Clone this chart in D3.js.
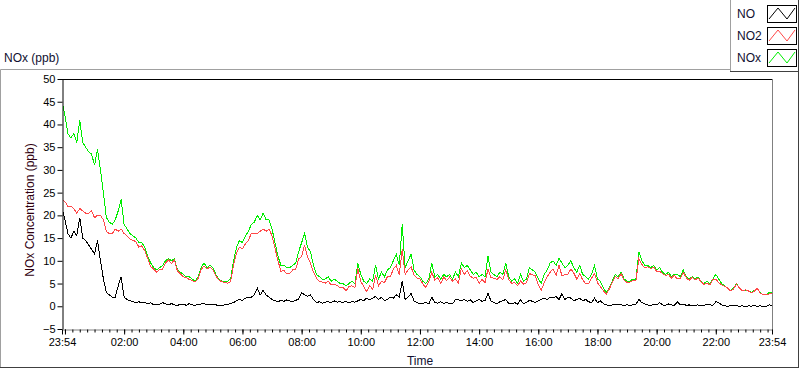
<!DOCTYPE html>
<html><head><meta charset="utf-8">
<script src="https://cdn.jsdelivr.net/npm/d3@7"></script>
<style>
body{margin:0;background:#fff;}
text{font-family:"Liberation Sans",Arial,sans-serif;}
</style>
</head><body>
<svg id="chart" width="800" height="369"></svg>
<script>
// ---- data (6-minute samples from 23:54 to 23:54 next day) ----
const stepMinutes = 6;
const seriesNames = ["NO", "NO2", "NOx"];
const yTickValues = [-5,0,5,10,15,20,25,30,35,40,45,50];
const xMajorLabels = ["23:54","02:00","04:00","06:00","08:00","10:00","12:00","14:00","16:00","18:00","20:00","22:00","23:54"];

const NOx = [
45,42,38,37,38,36,41,36,35,34,
33.5,31,34.5,30,25,19.5,18.5,18,19,21,
23.5,18,17,16,15.5,15,14,14,13,11,
9.5,8.5,8,8.5,9,10,10.5,10,10.5,8,
7.5,7,6.5,6.5,6,5.5,6.5,8.5,9.5,8.5,
9,8.5,7,6,5.5,5.5,5.5,6,10,13,
14.5,14,15.5,16.5,18,18.5,20,19,20.5,19,
19,17,14,11,9,9,8.5,8.5,9,9.5,
12,14,16,13,12,9,7,6.5,6,6,
6.5,5.5,6,5.5,5,5,4.5,5,5.5,5,
9.5,7,5.5,5,6,5.5,9,6,7.5,6.5,
8,8.5,10,11.5,9,18,8.5,10,11.5,8,
7,6.5,5.5,5,6,9.5,6.5,7,6,7,
6.5,7,6,7.5,6.5,9.5,8.5,9,8,7,
7.5,6.5,7,6.5,11,7.5,7,6.5,7.5,7,
9.5,6.5,5.5,6,5,7,5.5,6,8.5,8,
7.5,6,5,7,8,9.5,10,9,10.5,9.5,
8.5,9,10,8.5,7.5,9,7,6.5,6,7,
9,6,5.5,4,3,4,5.5,7,6.5,7.5,
6,5.5,5.5,6,6,12,10,9,9,8.5,
9,8,8.5,7.5,7,7.5,6.5,7,7,6.5,
8,6.5,6,6.5,6,6.5,5.5,5,5.5,5,
6,7,6,5,4.5,4,3.5,4,5,4,
3.5,3.5,3.5,3,3.5,4,3,2.5,2.5,3,
3
];
const NO2 = [
23.5,23,22,22,21.5,20.5,21.5,21,20.5,20.5,
21,19.5,20,20,19,16.5,16,16,17,16.5,
17,16,15.5,14.8,14.5,14.2,13,13.3,12.2,10.5,
8.7,8.2,7.5,8.1,8.2,9.5,10.2,9.4,10.2,7.8,
7.1,6.5,6.3,5.9,5.7,5.3,6.1,8,8.9,8.2,
8.6,8,6.7,5.8,5.4,5.2,5.1,5.4,9.2,11.8,
13,12.7,13.7,14.5,16,16,16,16.5,17,16.5,
17,15.5,12.8,10,7.7,7.9,7.1,7.3,8,8.2,
10.4,11,13.5,10.8,9.5,7.5,6.2,5.5,5.3,5.1,
5.5,4.7,4.8,4.6,4,4.2,3.4,4.3,4.5,4.1,
8.3,5.5,4.3,3.2,4.6,3.7,6.8,4.5,5.5,5.2,
6.5,6.5,8.2,9,7,12.5,7,8,8.7,6.8,
6.2,6,4.9,4.1,5.5,7.5,5.7,6.3,5,6.4,
5.7,6.4,5.5,6,5.1,8.3,7,7.9,6.6,6.2,
6.3,5,5.9,5.2,8.2,6.3,6.2,5.9,6.5,5.8,
8,5.9,5,5.2,4.5,5.6,4.9,5.2,7.2,6.9,
6.7,4.8,3.5,5.2,6.5,7.5,8.2,6.8,9,6.7,
7,7,8.2,7.3,6,7.2,5.8,5,5,6.2,
7.2,5.2,4.3,3.4,2.7,3.8,5.2,6.5,6.1,7.2,
5.8,5.2,5.3,5.7,5.6,10.5,9.2,8.5,8.7,8.3,
8.6,7.7,7.7,7.2,6.8,7,6.2,6.8,6,6.2,
7.5,6.3,5.7,6.4,5.8,6.2,5.4,4.8,5.1,4.7,
5.8,6,5.2,4.7,4.4,4,3.4,3.8,4.9,4,
3.4,3.6,3.4,3,3.3,4,2.9,2.5,2.6,2.7,
2.8
];
const NO = [
21.5,19,16,15,16.5,15.5,19.5,15,14.5,13.5,
12.5,11.5,14.5,10,6,3,2.5,2,2,4.5,
6.5,2,1.5,1.2,1,0.8,1,0.7,0.8,0.5,
0.8,0.3,0.5,0.4,0.8,0.5,0.3,0.6,0.3,0.2,
0.4,0.5,0.2,0.6,0.3,0.2,0.4,0.5,0.6,0.3,
0.4,0.5,0.3,0.2,0.1,0.3,0.4,0.6,0.8,1.2,
1.5,1.3,1.8,2,2,2.5,4,2.5,3.5,2.5,
2,1.5,1.2,1,1.3,1.1,1.4,1.2,1,1.3,
1.6,3,2.5,2.2,2.5,1.5,0.8,1,0.7,0.9,
1,0.8,1.2,0.9,1,0.8,1.1,0.7,1,0.9,
1.2,1.5,1.2,1.8,1.4,1.8,2.2,1.5,2,1.3,
1.5,2,1.8,2.5,2,5.5,1.5,2,2.8,1.2,
0.8,0.5,0.6,0.9,0.5,2,0.8,0.7,1,0.6,
0.8,0.6,0.5,1.5,1.4,1.2,1.5,1.1,1.4,0.8,
1.2,1.5,1.1,1.3,2.8,1.2,0.8,0.6,1,1.2,
1.5,0.6,0.5,0.8,0.5,1.4,0.6,0.8,1.3,1.1,
0.8,1.2,1.5,1.8,1.5,2,1.8,2.2,1.5,2.8,
1.5,2,1.8,1.2,1.5,1.8,1.2,1.5,1,0.8,
1.8,0.8,1.2,0.6,0.3,0.2,0.3,0.5,0.4,0.3,
0.2,0.3,0.2,0.3,0.4,1.5,0.8,0.5,0.3,0.2,
0.4,0.3,0.8,0.3,0.2,0.5,0.3,0.2,1,0.3,
0.5,0.2,0.3,0.1,0.2,0.3,0.1,0.2,0.4,0.3,
0.2,1,0.8,0.3,0.1,0,0.1,0.2,0.1,0,
0.1,-0.1,0.1,0,0.2,0,0.1,0,-0.1,0.3,
0.2
];
const seriesColors = {NO:"#000000", NO2:"#ff4848", NOx:"#00ee00"};

// ---- layout ----
const svg = d3.select("#chart");
const L = 62, R = 772, T = 79, B = 329;
const t0 = new Date(2000,0,1,23,54), t1 = new Date(2000,0,2,23,54);
const x = d3.scaleTime().domain([t0,t1]).range([L,R]);
const y = d3.scaleLinear().domain([-5,50]).range([B,T]);
const times = NOx.map((_,i)=> d3.timeMinute.offset(t0, i*stepMinutes));

// outer frame
svg.append("line").attr("x1",0.5).attr("y1",69.5).attr("x2",730).attr("y2",69.5).attr("stroke","#a0a0a0");
svg.append("line").attr("x1",0.5).attr("y1",69.5).attr("x2",0.5).attr("y2",367.5).attr("stroke","#a0a0a0");
svg.append("line").attr("x1",0).attr("y1",367.5).attr("x2",799).attr("y2",367.5).attr("stroke","#404040");
svg.append("line").attr("x1",798.5).attr("y1",72).attr("x2",798.5).attr("y2",368).attr("stroke","#404040");

// title
svg.append("text").attr("x",4).attr("y",62).attr("font-size",12).attr("fill","#101030").text("NOx (ppb)");

// plot area
svg.append("rect").attr("x",L).attr("y",T).attr("width",R-L).attr("height",B-T).attr("fill","#fff");
svg.append("line").attr("x1",L).attr("y1",T+0.5).attr("x2",R).attr("y2",T+0.5).attr("stroke","#000");
svg.append("line").attr("x1",R+0.5).attr("y1",T).attr("x2",R+0.5).attr("y2",B+1).attr("stroke","#808080");

// lines
const clip = svg.append("clipPath").attr("id","pc").append("rect").attr("x",L+1).attr("y",T+1).attr("width",R-L-1).attr("height",B-T);
const line = d3.line().x((d,i)=>x(times[i])).y(d=>y(d));
const g = svg.append("g").attr("clip-path","url(#pc)");
[["NOx",NOx],["NO2",NO2],["NO",NO]].forEach(([n,arr])=>{
  g.append("path").datum(arr).attr("d",line).attr("fill","none")
   .attr("stroke",seriesColors[n]).attr("stroke-width",1).attr("shape-rendering","crispEdges");
});

// y axis
const ya = svg.append("g").attr("transform",`translate(${L+0.5},0)`)
  .call(d3.axisLeft(y).tickValues(yTickValues).tickSize(5).tickPadding(2).tickSizeOuter(0));
ya.select(".domain").attr("stroke","#000");
ya.selectAll("line").attr("stroke","#000");
ya.selectAll("text").attr("font-size",11).attr("fill","#000").attr("font-family","Liberation Sans, Arial, sans-serif");

// x axis: minor ticks every 15 minutes, major every 2 hours
const minorTicks = d3.timeMinute.every(15).range(t0, t1);
const majorTicks = [t0].concat(d3.timeHour.every(2).range(t0,t1)).concat([t1]);
const fmt = d => {
  if (+d === +t0 || +d === +t1) return xMajorLabels[0];
  const h = d.getHours();
  if (h === 0) return "";
  return xMajorLabels[h/2];
};
const xm = svg.append("g").attr("transform",`translate(0,${B+0.5})`)
  .call(d3.axisBottom(x).tickValues(minorTicks).tickSize(3).tickFormat("").tickSizeOuter(0));
xm.select(".domain").attr("stroke","#808080");
xm.selectAll("line").attr("stroke","#000");
const xa = svg.append("g").attr("transform",`translate(0,${B+0.5})`)
  .call(d3.axisBottom(x).tickValues(majorTicks).tickSize(5).tickPadding(4).tickFormat(fmt).tickSizeOuter(0));
xa.select(".domain").remove();
xa.selectAll("line").attr("stroke","#000");
xa.selectAll("text").attr("font-size",11).attr("fill","#000").attr("font-family","Liberation Sans, Arial, sans-serif");

// axis titles
svg.append("text").attr("x",(L+R)/2+3).attr("y",365).attr("text-anchor","middle").attr("font-size",12).attr("fill","#101030").text("Time");
svg.append("text").attr("transform",`translate(34,${(T+B)/2+6}) rotate(-90)`).attr("text-anchor","middle")
  .attr("font-size",12).attr("fill","#300010").text("NOx Concentration (ppb)");

// legend
const lg = svg.append("g");
lg.append("rect").attr("x",730.5).attr("y",0.5).attr("width",68).attr("height",71).attr("fill","#fff").attr("stroke","none");
lg.append("line").attr("x1",730.5).attr("y1",0).attr("x2",730.5).attr("y2",72).attr("stroke","#a0a0a0");
lg.append("line").attr("x1",730).attr("y1",71.5).attr("x2",799).attr("y2",71.5).attr("stroke","#404040");
lg.append("line").attr("x1",798.5).attr("y1",0).attr("x2",798.5).attr("y2",72).attr("stroke","#404040");
seriesNames.forEach((n,i)=>{
  const yy = 5 + i*22;
  lg.append("text").attr("x",737).attr("y",yy+13).attr("font-size",12).attr("fill","#101030").text(n);
  lg.append("rect").attr("x",767.5).attr("y",yy+0.5).attr("width",29).attr("height",17).attr("fill","#fff").attr("stroke","#000");
  lg.append("path").attr("d",`M${769},${yy+14} L${778},${yy+3} L${787},${yy+14} L${795},${yy+3}`)
    .attr("fill","none").attr("stroke",seriesColors[n]).attr("stroke-width",1);
});
</script>
</body></html>
